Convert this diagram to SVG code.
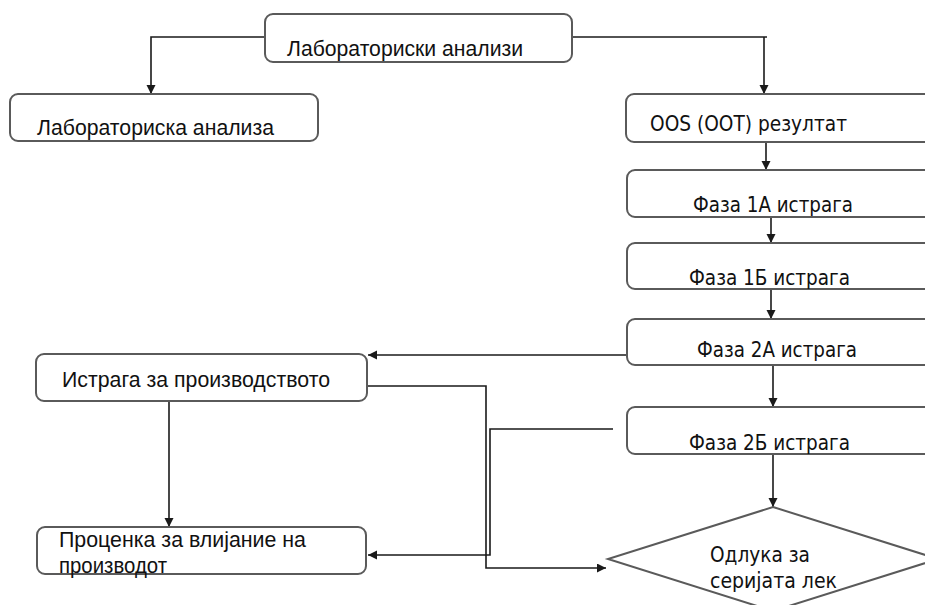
<svg xmlns="http://www.w3.org/2000/svg" width="925" height="605" viewBox="0 0 925 605">
<defs>
<marker id="ah" markerWidth="10" markerHeight="10" refX="9" refY="4.5" orient="auto" markerUnits="userSpaceOnUse">
<path d="M0,0 L9,4.5 L0,9 Z" fill="#1a1a1a"/>
</marker>
</defs>
<style>
.box{fill:#fff;stroke:#5a5a5a;stroke-width:2}
.con{fill:none;stroke:#1a1a1a;stroke-width:1.6}
.t1{font-family:"Liberation Sans",Arial,sans-serif;font-size:22.5px;fill:#111}
.t2{font-family:"DejaVu Sans",Verdana,sans-serif;font-size:21px;fill:#111}
</style>
<rect width="925" height="605" fill="#fff"/>
<g id="connectors">
<polyline class="con" points="265,37 151,37 151,94" marker-end="url(#ah)"/>
<polyline class="con" points="572,37 767,37"/>
<line class="con" x1="764" y1="37" x2="764" y2="94" marker-end="url(#ah)"/>
<line class="con" x1="766" y1="142" x2="766" y2="170" marker-end="url(#ah)"/>
<line class="con" x1="771" y1="217" x2="771" y2="243" marker-end="url(#ah)"/>
<line class="con" x1="771" y1="289" x2="771" y2="319" marker-end="url(#ah)"/>
<line class="con" x1="773" y1="365" x2="773" y2="407" marker-end="url(#ah)"/>
<line class="con" x1="773" y1="454" x2="773" y2="507" marker-end="url(#ah)"/>
<line class="con" x1="627" y1="355" x2="368" y2="355" marker-end="url(#ah)"/>
<polyline class="con" points="367,386 486,386 486,568 606,568" marker-end="url(#ah)"/>
<polyline class="con" points="613,429 490,429 490,555 368,555" marker-end="url(#ah)"/>
<line class="con" x1="169" y1="398" x2="169" y2="527" marker-end="url(#ah)"/>
</g>
<g id="n1">
<rect class="box" x="265" y="14" width="307" height="48" rx="8"/>
<text class="t1" x="287" y="56" textLength="236" lengthAdjust="spacingAndGlyphs">Лабораториски анализи</text>
</g>
<g id="n2">
<rect class="box" x="10" y="94" width="308" height="47" rx="8"/>
<text class="t1" x="37" y="135" textLength="237" lengthAdjust="spacingAndGlyphs">Лабораториска анализа</text>
</g>
<g id="n3">
<rect class="box" x="626" y="94" width="320" height="48" rx="8"/>
<text class="t2" x="650" y="131" textLength="197" lengthAdjust="spacingAndGlyphs">OOS (OOT) резултат</text>
</g>
<g id="n4">
<rect class="box" x="627" y="170" width="320" height="47" rx="8"/>
<text class="t2" x="693" y="212" textLength="160" lengthAdjust="spacingAndGlyphs">Фаза 1А истрага</text>
</g>
<g id="n5">
<rect class="box" x="627" y="243" width="320" height="46" rx="8"/>
<text class="t2" x="689" y="285" textLength="161" lengthAdjust="spacingAndGlyphs">Фаза 1Б истрага</text>
</g>
<g id="n6">
<rect class="box" x="627" y="319" width="320" height="46" rx="8"/>
<text class="t2" x="697" y="357" textLength="160" lengthAdjust="spacingAndGlyphs">Фаза 2А истрага</text>
</g>
<g id="n7">
<rect class="box" x="627" y="407" width="320" height="47" rx="8"/>
<text class="t2" x="689" y="450" textLength="161" lengthAdjust="spacingAndGlyphs">Фаза 2Б истрага</text>
</g>
<g id="n8">
<rect class="box" x="36" y="354" width="331" height="47" rx="8"/>
<text class="t1" x="62" y="387" textLength="268" lengthAdjust="spacingAndGlyphs">Истрага за производството</text>
</g>
<g id="n9">
<rect class="box" x="37" y="527" width="329" height="47" rx="8"/>
<text class="t1" x="59" y="547" textLength="247" lengthAdjust="spacingAndGlyphs">Проценка за влијание на</text>
<text class="t1" x="59" y="573" textLength="108" lengthAdjust="spacingAndGlyphs">производот</text>
</g>
<g id="n10">
<polygon class="box" points="773,507 938,559 773,611 608,559"/>
<text class="t2" x="710" y="562" textLength="100" lengthAdjust="spacingAndGlyphs">Одлука за</text>
<text class="t2" x="710" y="588" textLength="127" lengthAdjust="spacingAndGlyphs">серијата лек</text>
</g>
</svg>
